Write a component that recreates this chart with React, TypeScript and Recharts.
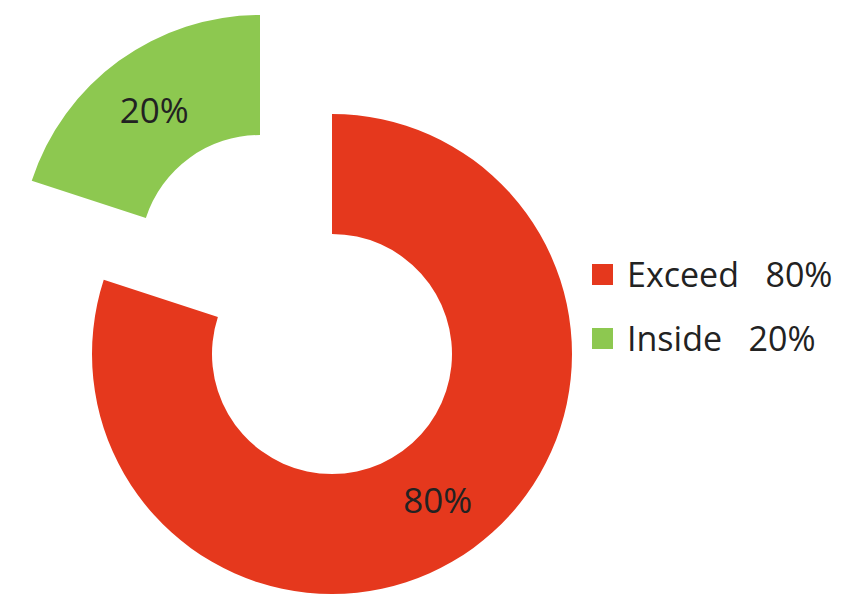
import { PieChart, Pie, Cell, Legend } from 'recharts'

const categories = ['Exceed', 'Inside']
const shares = [80, 20]
const colors = ['#E5381D', '#8DC850']

const data = categories.map((name, i) => ({ name, value: shares[i] }))

const FONT = '"Open Sans", sans-serif'
const RAD = Math.PI / 180

// label only the slice this pie actually paints
function sliceLabel(show: number) {
  return (props: any) => {
    const { cx, cy, midAngle, innerRadius, outerRadius, index, value } = props
    if (index !== show) return null
    const r = (innerRadius + outerRadius) / 2
    const x = cx + r * Math.cos(-midAngle * RAD)
    const y = cy + r * Math.sin(-midAngle * RAD)
    return (
      <text x={x} y={y} fill="#222" fontSize={35} fontFamily={FONT} textAnchor="middle" dominantBaseline="central">
        {`${value}%`}
      </text>
    )
  }
}

function LegendBox() {
  return (
    <div style={{ fontFamily: FONT, fontSize: 34, color: '#222' }}>
      {data.map((d, i) => (
        <div key={d.name} style={{ display: 'flex', alignItems: 'center', height: 64 }}>
          <span style={{ width: 21, height: 21, background: colors[i], marginRight: 14 }} />
          <span style={{ whiteSpace: 'pre' }}>{`${d.name}   ${d.value}%`}</span>
        </div>
      ))}
    </div>
  )
}

export default function App() {
  return (
    <div style={{ position: 'absolute', left: 0, top: 0, background: '#fff' }}>
      <PieChart width={851} height={595} margin={{ top: 0, right: 0, bottom: 0, left: 0 }}>
        <Pie
          data={data}
          dataKey="value"
          cx={332}
          cy={354}
          innerRadius={120}
          outerRadius={240}
          startAngle={90}
          endAngle={-270}
          stroke="none"
          labelLine={false}
          label={sliceLabel(0)}
          isAnimationActive={false}
        >
          <Cell fill={colors[0]} />
          <Cell fill="transparent" />
        </Pie>
        <Pie
          data={data}
          dataKey="value"
          cx={260}
          cy={255}
          innerRadius={120}
          outerRadius={240}
          startAngle={90}
          endAngle={-270}
          stroke="none"
          labelLine={false}
          label={sliceLabel(1)}
          isAnimationActive={false}
        >
          <Cell fill="transparent" />
          <Cell fill={colors[1]} />
        </Pie>
        <Legend
          content={<LegendBox />}
          layout="vertical"
          wrapperStyle={{ position: 'absolute', left: 592, top: 242, width: 259 }}
        />
      </PieChart>
    </div>
  )
}
